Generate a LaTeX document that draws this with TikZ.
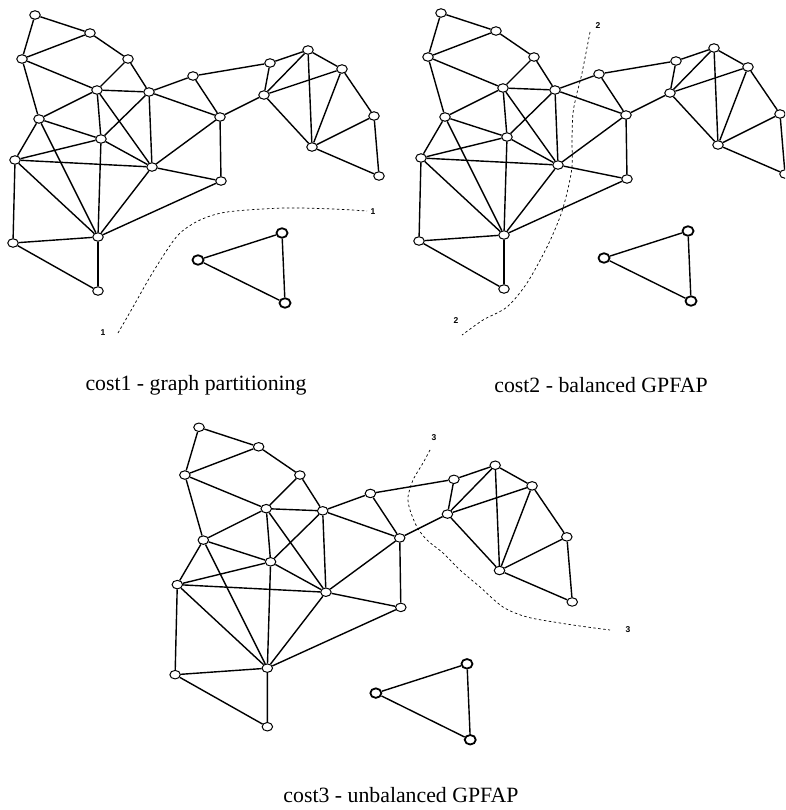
\documentclass[tikz,border=0pt]{standalone}
\usepackage{fontspec}
\setmainfont{Liberation Serif}
\newfontfamily\cutfont{Liberation Sans}
\usetikzlibrary{shapes.geometric}

\begin{document}
\begin{tikzpicture}[x=1pt,y=-1pt,
  vertex/.style={draw,ellipse,fill=white,line width=1pt,inner sep=0pt,minimum width=10.5pt,minimum height=8.5pt},
  isolated/.style={vertex,line width=1.8pt,minimum width=11pt,minimum height=9.5pt},
  edge/.style={line width=1.4pt},
  cut/.style={line width=0.7pt,dash pattern=on 2.5pt off 2.5pt},
  cutlabel/.style={font=\cutfont\bfseries\fontsize{8.5}{9}\selectfont,inner sep=1pt},
  caption/.style={font=\fontsize{21.8}{24}\selectfont,anchor=base}]
\clip (0,0) rectangle (785,810);

\foreach \g/\sx/\sy/\sc in {1/0/0/1, 2/406/-2/1, 3/161/411/1.085}{
\begin{scope}[shift={(\sx,\sy)},scale=\sc]
\foreach \p/\x/\y in {a/35/15, b/90/33, c/22/59, d/128/59, e/97/90, f/149/92, g/193/76,
  h/39/119, i/101/139, j/15/160, k/152/167, l/220/117, m/270/63, n/264/95, o/308/50,
  p/342/69, q/374/116, r/312/147, s/379/176, t/221/181, u/98/237, v/13/243, w/98/291}
  \node[vertex] (g\g\p) at (\x,\y) {};
\node[isolated] (g\g x) at (282,233) {};
\node[isolated] (g\g y) at (198,260) {};
\node[isolated] (g\g z) at (285,303) {};

\foreach \u/\v in {a/b, a/c, b/c, b/d, c/e, c/h, d/e, d/f, e/f, e/h, e/i, e/k,
  f/i, f/k, f/g, f/l, g/l, g/m, l/n, l/k, l/t, k/t, m/n, m/o, n/o, n/p, o/p, o/r,
  p/r, n/r, p/q, q/r, q/s, r/s, h/i, h/j, h/u, i/j, i/k, i/u, j/k, j/u, j/v,
  k/u, t/u, u/v, u/w, v/w, x/y, y/z, x/z}
  \draw[edge] (g\g\u) -- (g\g\v);
\end{scope}
}

% cuts
\draw[cut] plot[smooth] coordinates {(118,333) (133,307) (150,277) (167,250) (180,233)
  (200,220) (227,212) (283,208) (333,209) (367,211)};
\node[cutlabel] (one a) at (373,212) {1};
\node[cutlabel] (one b) at (103,333) {1};

\draw[cut] plot[smooth] coordinates {(590,32) (582,73) (577,93) (573,113) (572,140)
  (572,167) (567,193) (560,217) (547,247) (527,283) (507,307) (483,320) (462,335)};
\node[cutlabel] (two a) at (598,26) {2};
\node[cutlabel] (two b) at (456,321) {2};

\draw[cut] plot[smooth] coordinates {(430,450) (423,463) (413,480) (408,497) (410,510)
  (417,527) (427,540) (443,553) (460,570) (480,587) (503,607) (527,617) (560,623)
  (587,627) (610,630)};
\node[cutlabel] (three a) at (434,438) {3};
\node[cutlabel] (three b) at (628,630) {3};

\node[caption] (cap1) at (196,390) {cost1 - graph partitioning};
\node[caption] (cap2) at (601,392) {cost2 - balanced GPFAP};
\node[caption] (cap3) at (401,802) {cost3 - unbalanced GPFAP};
\end{tikzpicture}
\end{document}
